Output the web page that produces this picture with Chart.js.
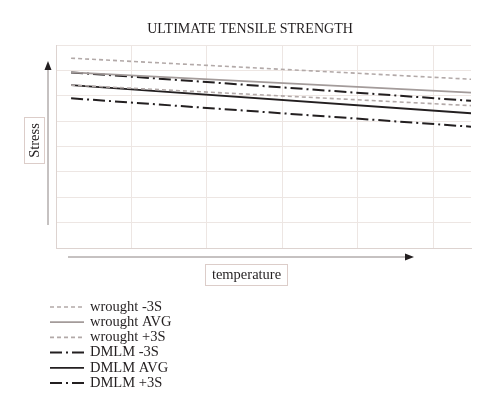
<!DOCTYPE html>
<html>
<head>
<meta charset="utf-8">
<script src="https://cdn.jsdelivr.net/npm/chart.js@4.4.0/dist/chart.umd.min.js"></script>
<style>
  html, body { margin: 0; padding: 0; background: #fff; }
  #wrap { width: 500px; height: 411px; }
</style>
</head>
<body>
<div id="wrap"><canvas id="myChart" width="500" height="411"></canvas></div>
<script>
// values (grid units, x = temperature, y = stress)
const temps = [0.2, 5.5];
const wroughtMinus = [6.42, 5.61];
const wroughtAvg = [6.92, 6.12];
const wroughtPlus = [7.48, 6.65];
const dmlmMinus = [5.90, 4.78];
const dmlmAvg = [6.42, 5.31];
const dmlmPlus = [6.92, 5.80];
const seriesNames = ['wrought -3S', 'wrought AVG', 'wrought +3S', 'DMLM -3S', 'DMLM AVG', 'DMLM +3S'];

const ink = '#231f20';
const grey = '#b2a9a8';
const gridCol = '#ede6e3';
const serif = '"Liberation Serif", "DejaVu Serif", serif';

function pts(vals) {
    return vals.map((v, i) => ({ x: temps[i], y: v }));
}

// title, legend, arrows and axis captions
const extras = {
    id: 'extras',
    afterDraw(chart) {
        const ctx = chart.ctx;
        ctx.save();

        ctx.fillStyle = ink;
        ctx.textAlign = 'center';
        ctx.textBaseline = 'middle';
        ctx.font = '14px ' + serif;
        ctx.fillText('ULTIMATE TENSILE STRENGTH', 250, 29);

        // y arrow
        ctx.strokeStyle = '#8c8483';
        ctx.lineWidth = 1;
        ctx.beginPath(); ctx.moveTo(48, 225); ctx.lineTo(48, 66); ctx.stroke();
        ctx.beginPath(); ctx.moveTo(48, 61); ctx.lineTo(44.5, 70); ctx.lineTo(51.5, 70); ctx.closePath(); ctx.fill();

        // x arrow
        ctx.beginPath(); ctx.moveTo(68, 257); ctx.lineTo(406, 257); ctx.stroke();
        ctx.beginPath(); ctx.moveTo(414, 257); ctx.lineTo(405, 253.5); ctx.lineTo(405, 260.5); ctx.closePath(); ctx.fill();

        ctx.font = '14.5px ' + serif;

        // Stress box
        ctx.strokeStyle = '#dccdc9';
        ctx.strokeRect(24.5, 117.5, 20, 46);
        ctx.save();
        ctx.translate(35, 140.5);
        ctx.rotate(-Math.PI / 2);
        ctx.fillText('Stress', 0, 0);
        ctx.restore();

        // temperature box
        ctx.strokeRect(205.5, 264.5, 82, 21);
        ctx.fillText('temperature', 246.5, 275);

        // legend
        ctx.textAlign = 'left';
        chart.data.datasets.forEach((ds, i) => {
            const y = 307 + i * 15.2;
            ctx.strokeStyle = ds.borderColor;
            ctx.lineWidth = ds.borderWidth;
            ctx.setLineDash(ds.borderDash || []);
            ctx.beginPath(); ctx.moveTo(50, y); ctx.lineTo(84, y); ctx.stroke();
            ctx.setLineDash([]);
            ctx.fillText(ds.label, 90, y);
        });
        ctx.restore();
    }
};

let myChart = new Chart(document.getElementById('myChart').getContext('2d'), {
    type: 'line',
    data: {
        datasets: [
            { label: seriesNames[0], data: pts(wroughtMinus), borderColor: grey, borderWidth: 1.6, borderDash: [4, 3] },
            { label: seriesNames[1], data: pts(wroughtAvg), borderColor: '#a39b9a', borderWidth: 1.8 },
            { label: seriesNames[2], data: pts(wroughtPlus), borderColor: grey, borderWidth: 1.6, borderDash: [4, 3] },
            { label: seriesNames[3], data: pts(dmlmMinus), borderColor: ink, borderWidth: 2, borderDash: [12, 4, 2, 4] },
            { label: seriesNames[4], data: pts(dmlmAvg), borderColor: ink, borderWidth: 1.8 },
            { label: seriesNames[5], data: pts(dmlmPlus), borderColor: ink, borderWidth: 2, borderDash: [12, 4, 2, 4] }
        ]
    },
    options: {
        responsive: false,
        animation: false,
        events: [],
        elements: { point: { radius: 0 }, line: { tension: 0 } },
        layout: { padding: { left: 56, right: 29, top: 45, bottom: 163 } },
        scales: {
            x: {
                type: 'linear', min: 0, max: 5.5,
                ticks: { display: false, stepSize: 1, includeBounds: false },
                grid: { color: gridCol, drawTicks: false },
                border: { color: '#ddd3d0' }
            },
            y: {
                min: 0, max: 8,
                ticks: { display: false, stepSize: 1 },
                grid: { color: gridCol, drawTicks: false },
                border: { color: '#ddd3d0' }
            }
        },
        plugins: {
            legend: { display: false },
            tooltip: { enabled: false },
            title: { display: false }
        }
    },
    plugins: [extras]
});
</script>
</body>
</html>
